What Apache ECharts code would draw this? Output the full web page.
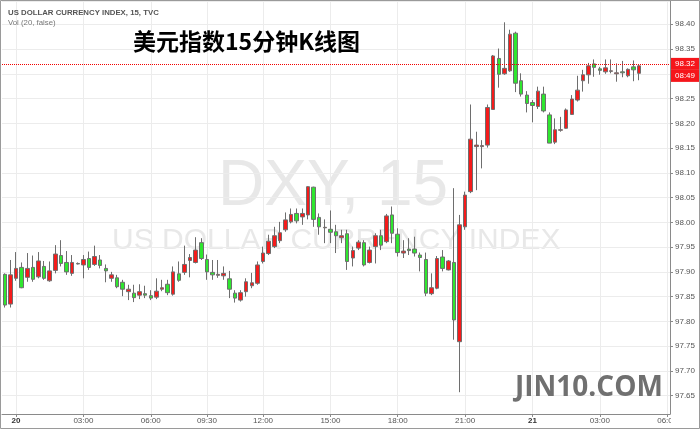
<!DOCTYPE html>
<html><head><meta charset="utf-8">
<script src="https://cdn.jsdelivr.net/npm/echarts@6/dist/echarts.min.js"></script>
<style>html,body{margin:0;padding:0;background:#fff}#c{width:700px;height:429px}</style>
</head><body><div id="c"></div>
<script>
// ---- data (15-minute candles) ----
const openVals = [97.895,97.835,97.887,97.909,97.889,97.909,97.890,97.911,97.882,97.903,
97.933,97.919,97.897,97.917,97.914,97.927,97.915,97.924,97.907,97.887,
97.888,97.879,97.860,97.857,97.853,97.856,97.852,97.849,97.865,97.875,
97.855,97.896,97.899,97.923,97.919,97.959,97.925,97.899,97.893,97.892,
97.886,97.857,97.843,97.860,97.872,97.877,97.921,97.937,97.951,97.963,
97.985,98.001,98.018,98.011,98.015,98.071,98.010,97.989,97.986,97.981,
97.969,97.977,97.928,97.948,97.959,97.919,97.951,97.973,97.961,98.015,
97.976,97.938,97.946,97.946,97.934,97.925,97.856,97.867,97.930,97.904,
97.919,97.759,97.991,98.062,98.153,98.153,98.156,98.228,98.331,98.300,
98.306,98.382,98.286,98.257,98.242,98.234,98.259,98.217,98.162,98.186,
98.190,98.218,98.247,98.286,98.298,98.320,98.310,98.304,98.305,98.300,
98.304,98.296,98.314,98.301];
const highVals = [97.897,97.924,97.940,97.919,97.938,97.933,97.940,97.922,97.921,97.954,
97.964,97.942,97.934,97.919,97.934,97.941,97.953,97.934,97.915,97.900,
97.894,97.884,97.874,97.874,97.875,97.872,97.863,97.887,97.884,97.884,
97.911,97.921,97.953,97.936,97.970,97.968,97.935,97.924,97.924,97.911,
97.902,97.863,97.863,97.887,97.898,97.921,97.951,97.975,97.991,98.001,
98.020,98.028,98.028,98.028,98.073,98.072,98.018,98.006,98.024,97.995,
97.985,97.985,97.951,97.964,97.964,97.951,97.978,97.985,98.017,98.032,
97.988,97.964,97.968,97.971,97.939,97.939,97.897,97.932,97.944,97.924,
98.069,98.015,98.062,98.238,98.183,98.166,98.238,98.338,98.351,98.404,
98.389,98.385,98.301,98.265,98.247,98.274,98.274,98.222,98.210,98.213,
98.230,98.257,98.296,98.308,98.322,98.329,98.314,98.329,98.329,98.321,
98.326,98.311,98.327,98.318];
const lowVals = [97.828,97.828,97.882,97.867,97.880,97.880,97.887,97.884,97.880,97.897,
97.911,97.894,97.892,97.915,97.887,97.904,97.912,97.907,97.879,97.880,
97.867,97.851,97.843,97.839,97.845,97.847,97.843,97.845,97.861,97.853,
97.852,97.880,97.894,97.889,97.917,97.924,97.884,97.884,97.888,97.884,
97.847,97.838,97.840,97.850,97.867,97.874,97.917,97.934,97.948,97.958,
97.981,97.998,97.998,97.995,98.006,97.991,97.975,97.958,97.958,97.938,
97.958,97.904,97.911,97.944,97.911,97.917,97.917,97.944,97.958,97.958,
97.931,97.928,97.934,97.931,97.901,97.851,97.853,97.865,97.901,97.903,
97.763,97.657,97.985,98.059,98.065,98.109,98.151,98.227,98.272,98.298,
98.304,98.263,98.254,98.222,98.202,98.229,98.222,98.160,98.158,98.183,
98.189,98.217,98.244,98.264,98.280,98.294,98.298,98.300,98.301,98.284,
98.293,98.293,98.285,98.287];
const closeVals = [97.833,97.894,97.907,97.868,97.907,97.885,97.922,97.887,97.902,97.936,
97.917,97.900,97.919,97.916,97.925,97.909,97.931,97.913,97.902,97.894,
97.870,97.865,97.865,97.848,97.860,97.853,97.847,97.861,97.868,97.858,
97.900,97.883,97.915,97.929,97.944,97.927,97.900,97.894,97.895,97.897,
97.865,97.847,97.858,97.880,97.878,97.914,97.938,97.962,97.973,97.979,
98.005,98.016,98.003,98.018,98.072,98.006,97.991,97.990,97.980,97.973,
97.973,97.921,97.943,97.960,97.914,97.944,97.973,97.954,98.013,97.978,
97.939,97.942,97.943,97.938,97.929,97.857,97.868,97.927,97.907,97.922,
97.803,97.995,98.055,98.168,98.156,98.155,98.232,98.336,98.299,98.311,
98.380,98.281,98.259,98.240,98.236,98.265,98.225,98.160,98.187,98.187,
98.227,98.249,98.267,98.298,98.316,98.313,98.307,98.312,98.306,98.302,
98.302,98.309,98.308,98.316];

// x tick labels (categories that carry a label)
const xTickCats = ['20 00:00','20 03:00','20 06:00','20 09:30','20 12:00','20 15:00',
                   '20 18:00','20 21:00','21 00:00','21 03:00','21 06:00'];
const countdownLabel = '08:49';
const headerTitle = 'US DOLLAR CURRENCY INDEX, 15, TVC';
const headerSub = 'Vol (20, false)';
const chartTitle = '美元指数15分钟K线图';

// categories: 15-minute slots from 19 23:30 (session break 07:00-07:45 on the 20th)
const categories = [];
(function(){
  let d = 19, h = 23, m = 30;
  const pad = n => (n < 10 ? '0' : '') + n;
  while (categories.length < 119) {
    const skip = (d === 20 && h === 7);
    if (!skip) categories.push(pad(d) + ' ' + pad(h) + ':' + pad(m));
    m += 15; if (m === 60) { m = 0; h += 1; if (h === 24) { h = 0; d += 1; } }
  }
})();

const candleData = openVals.map((o, i) => [o, closeVals[i], lowVals[i], highVals[i]]);
const lastClose = closeVals[closeVals.length - 1];

const showTick = (idx, val) => xTickCats.indexOf(categories[idx]) >= 0;

const chart = echarts.init(document.getElementById('c'), null, {renderer: 'canvas'});
chart.setOption({
  animation: false,
  backgroundColor: '#fff',
  grid: {left: 2, right: 30, top: 1, bottom: 15, containLabel: false},
  xAxis: {
    type: 'category', data: categories, boundaryGap: true,
    axisLine: {show: true, lineStyle: {color: '#8a8a8a'}},
    axisTick: {show: true, length: 3, alignWithLabel: true, interval: showTick, lineStyle: {color: '#8a8a8a'}},
    axisLabel: {
      interval: showTick, fontSize: 8, color: '#555', margin: 3, fontFamily: 'Liberation Sans, Arial',
      formatter: v => { const p = v.split(' '); return p[1] === '00:00' ? '{b|' + String(+p[0]) + '}' : p[1]; },
      rich: {b: {fontWeight: 'bold', color: '#333', fontSize: 8, fontFamily: 'Liberation Sans, Arial'}}
    },
    splitLine: {show: true, interval: showTick, alignWithLabel: true, lineStyle: {color: '#ececec'}}
  },
  yAxis: {
    type: 'value', position: 'right', scale: true,
    min: 97.613, max: 98.447, splitNumber: 17, minInterval: 0.05, maxInterval: 0.05,
    axisLine: {show: true, lineStyle: {color: '#8a8a8a'}},
    axisTick: {show: true, length: 3, lineStyle: {color: '#8a8a8a'}},
    axisLabel: {fontSize: 8, color: '#555', margin: 5, showMinLabel: false, showMaxLabel: false,
      fontFamily: 'Liberation Sans, Arial', formatter: v => v.toFixed(2)},
    splitLine: {show: true, lineStyle: {color: '#ececec'}}
  },
  series: [{
    type: 'candlestick', data: candleData, barWidth: 4,
    itemStyle: {color: '#f51b1b', color0: '#2fe62f', borderColor: '#6e6e6e', borderColor0: '#6e6e6e', borderWidth: 1},
    markLine: {
      silent: true, symbol: ['none', 'none'], animation: false,
      lineStyle: {color: '#f20000', type: 'dotted', width: 1},
      label: {
        position: 'end', distance: 1, padding: [12, 0, 0, 0],
        formatter: p => '{p|' + p.value.toFixed(2) + '}\n{t|' + countdownLabel + '}',
        rich: {
          p: {backgroundColor: '#f5161b', color: '#fff', fontSize: 8, padding: [2, 4], lineHeight: 12, fontFamily: 'Liberation Sans, Arial'},
          t: {backgroundColor: '#f5161b', color: '#fff', fontSize: 8, padding: [2, 4], lineHeight: 12, fontFamily: 'Liberation Sans, Arial'}
        }
      },
      data: [{yAxis: lastClose}]
    }
  }],
  graphic: [
    {type: 'text', x: 218, y: 187, z: -1, silent: true,
     style: {text: 'DXY, 15', font: '64px "Liberation Sans", Arial', fill: '#e8e8e8', verticalAlign: 'middle'}},
    {type: 'text', x: 112, y: 241, z: -1, silent: true,
     style: {text: 'US DOLLAR CURRENCY INDEX', font: '30px "Liberation Sans", Arial', fill: '#e8e8e8', verticalAlign: 'middle'}},
    {type: 'text', x: 515, y: 388, z: 50, silent: true,
     style: {text: 'JIN10.COM', font: 'bold 28px "Open Sans"', fill: '#707070', verticalAlign: 'middle'}},
    {type: 'text', x: 8, y: 13, z: 50, silent: true,
     style: {text: headerTitle, font: 'bold 7.8px "Liberation Sans", Arial', fill: '#555', verticalAlign: 'middle'}},
    {type: 'text', x: 8, y: 23, z: 50, silent: true,
     style: {text: headerSub, font: '7.8px "Liberation Sans", Arial', fill: '#777', verticalAlign: 'middle'}},
    {type: 'text', x: 133, y: 41, z: 50, silent: true,
     style: {text: chartTitle, font: 'bold 23px "Noto Sans CJK SC"', fill: '#000', verticalAlign: 'middle'}},
    {type: 'rect', z: 99, silent: true, shape: {x: 671, y: 415, width: 28, height: 13}, style: {fill: '#fff'}},
    {type: 'rect', z: 100, silent: true, shape: {x: 0.5, y: 0.5, width: 699, height: 428},
     style: {fill: 'none', stroke: '#9a9a9a', lineWidth: 1}}
  ]
});
</script>
</body></html>
